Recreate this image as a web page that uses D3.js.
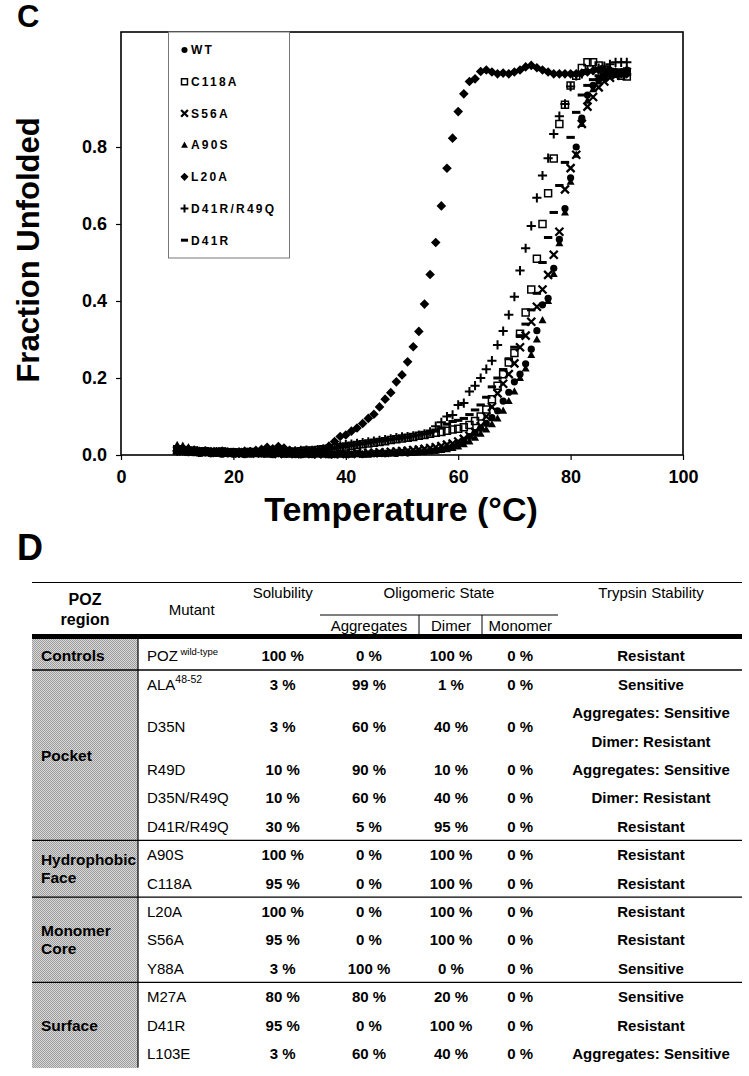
<!DOCTYPE html>
<html><head><meta charset="utf-8">
<script src="https://cdn.jsdelivr.net/npm/d3@7"></script>
<style>body{margin:0;background:#fff}svg{display:block}</style>
</head><body><svg id="c" width="749" height="1076"></svg>
<script>
// ---------- Panel C data ----------
const temps = [10,11,12,13,14,15,16,17,18,19,20,21,22,23,24,25,26,27,28,29,30,31,32,33,34,35,36,37,38,39,40,41,42,43,44,45,46,47,48,49,50,51,52,53,54,55,56,57,58,59,60,61,62,63,64,65,66,67,68,69,70,71,72,73,74,75,76,77,78,79,80,81,82,83,84,85,86,87,88,89,90];
const seriesNames = ["WT","C118A","S56A","A90S","L20A","D41R/R49Q","D41R"];
const seriesSymbols = ["circle","square","x","triangle","diamond","plus","dash"];
const wt = [0.010,0.012,0.008,0.006,0.004,0.005,0.003,0.004,0.002,0.003,
0.002,0.003,0.001,0.002,0.004,0.003,0.002,0.001,0.003,0.002,
0.002,0.001,0.000,0.002,0.001,0.003,0.002,0.000,0.001,0.002,
0.001,0.002,0.003,0.001,0.002,0.003,0.004,0.003,0.005,0.004,
0.006,0.005,0.007,0.008,0.009,0.011,0.012,0.014,0.017,0.022,
0.030,0.036,0.048,0.058,0.069,0.082,0.097,0.115,0.140,0.163,
0.190,0.210,0.237,0.275,0.323,0.390,0.407,0.485,0.560,0.640,
0.720,0.800,0.875,0.935,0.960,0.975,0.985,0.990,0.995,0.995,1.000];
const c118a = [0.015,0.013,0.010,0.012,0.009,0.010,0.008,0.007,0.009,0.006,
0.007,0.005,0.006,0.008,0.006,0.005,0.007,0.006,0.008,0.007,
0.009,0.008,0.010,0.012,0.011,0.013,0.015,0.016,0.018,0.020,
0.022,0.024,0.026,0.028,0.030,0.032,0.034,0.036,0.039,0.041,
0.043,0.045,0.047,0.050,0.052,0.055,0.058,0.060,0.063,0.066,
0.068,0.072,0.078,0.088,0.100,0.118,0.145,0.180,0.210,0.240,
0.265,0.315,0.370,0.430,0.510,0.600,0.680,0.770,0.860,0.910,
0.960,0.985,1.005,1.020,1.020,1.012,1.000,0.995,0.990,0.985,0.983];
const s56a = [0.012,0.010,0.009,0.010,0.008,0.007,0.009,0.006,0.008,0.007,
0.006,0.005,0.007,0.004,0.006,0.005,0.004,0.006,0.003,0.005,
0.004,0.003,0.005,0.004,0.003,0.002,0.004,0.003,0.002,0.003,
0.004,0.003,0.005,0.004,0.006,0.005,0.007,0.006,0.008,0.009,
0.010,0.011,0.013,0.014,0.016,0.018,0.020,0.023,0.027,0.030,
0.035,0.042,0.050,0.060,0.075,0.100,0.125,0.160,0.185,0.210,
0.238,0.280,0.310,0.346,0.385,0.430,0.468,0.520,0.580,0.690,
0.745,0.780,0.860,0.905,0.930,0.955,0.970,0.980,0.985,0.990,0.995];
const a90s = [0.026,0.024,0.020,0.015,0.012,0.010,0.008,0.006,0.007,0.005,
0.004,0.005,0.003,0.004,0.002,0.003,0.004,0.002,0.003,0.001,
0.002,0.003,0.001,0.002,0.000,0.001,0.002,0.001,0.003,0.002,
0.003,0.002,0.004,0.003,0.002,0.004,0.003,0.005,0.004,0.006,
0.005,0.007,0.006,0.008,0.009,0.010,0.011,0.013,0.015,0.018,
0.022,0.028,0.035,0.045,0.055,0.066,0.080,0.095,0.115,0.140,
0.165,0.200,0.225,0.260,0.300,0.350,0.400,0.470,0.550,0.630,
0.710,0.780,0.860,0.920,0.950,0.970,0.980,0.990,0.990,0.995,1.000];
const l20a = [0.012,0.010,0.015,0.011,0.008,0.010,0.009,0.007,0.010,0.008,
0.006,0.008,0.010,0.009,0.012,0.015,0.020,0.016,0.022,0.018,
0.012,0.010,0.008,0.009,0.011,0.010,0.013,0.023,0.035,0.048,
0.052,0.062,0.070,0.082,0.095,0.106,0.125,0.145,0.162,0.190,
0.208,0.242,0.281,0.321,0.392,0.469,0.552,0.647,0.745,0.823,
0.892,0.938,0.970,0.977,0.996,1.000,0.995,0.990,0.992,0.990,
0.995,1.000,1.008,1.012,1.006,1.000,0.995,0.990,0.990,0.990,
0.990,0.990,0.992,0.995,0.998,1.000,1.000,1.000,0.995,0.990,0.990];
const d41rR49q = [0.010,0.012,0.009,0.011,0.008,0.010,0.007,0.009,0.008,0.006,
0.007,0.005,0.006,0.008,0.007,0.006,0.009,0.008,0.010,0.009,
0.011,0.010,0.012,0.013,0.012,0.014,0.016,0.018,0.020,0.024,
0.027,0.028,0.030,0.032,0.034,0.036,0.038,0.040,0.042,0.045,
0.047,0.048,0.050,0.052,0.055,0.060,0.075,0.085,0.100,0.104,
0.130,0.135,0.165,0.180,0.200,0.223,0.245,0.286,0.322,0.364,
0.411,0.479,0.537,0.595,0.668,0.726,0.771,0.834,0.880,0.912,
0.957,0.985,0.990,1.000,1.000,1.005,1.010,1.015,1.020,1.020,1.020];
const d41r = [0.008,0.006,0.009,0.007,0.005,0.008,0.006,0.004,0.007,0.005,
0.004,0.006,0.005,0.003,0.005,0.004,0.006,0.005,0.007,0.006,
0.008,0.007,0.009,0.010,0.012,0.011,0.013,0.015,0.017,0.020,
0.022,0.024,0.027,0.029,0.031,0.034,0.036,0.038,0.040,0.042,
0.044,0.046,0.049,0.052,0.055,0.058,0.062,0.070,0.080,0.087,
0.090,0.095,0.105,0.117,0.130,0.150,0.177,0.200,0.222,0.250,
0.280,0.310,0.340,0.377,0.420,0.500,0.565,0.630,0.700,0.760,
0.825,0.890,0.935,0.960,0.975,0.985,0.990,0.995,1.000,1.000,0.998];
const seriesValues = [wt, c118a, s56a, a90s, l20a, d41rR49q, d41r];
const xTicks = [0,20,40,60,80,100];
const yTicks = [0,0.2,0.4,0.6,0.8];

// ---------- Panel D data ----------
const regionNames = [["Controls"],["Pocket"],["Hydrophobic","Face"],["Monomer","Core"],["Surface"]];
const regionSizes = [1,5,2,3,3];
const mutants = ["POZ","ALA","D35N","R49D","D35N/R49Q","D41R/R49Q","A90S","C118A","L20A","S56A","Y88A","M27A","D41R","L103E"];
const mutantSup = ["wild-type","48-52","","","","","","","","","","","",""];
const solubility = [100,3,3,10,10,30,100,95,100,95,3,80,95,3];
const aggregates = [0,99,60,90,60,5,0,0,0,0,100,80,0,60];
const dimer = [100,1,40,10,40,95,100,100,100,100,0,20,100,40];
const monomer = [0,0,0,0,0,0,0,0,0,0,0,0,0,0];
const trypsin = [["Resistant"],["Sensitive"],["Aggregates: Sensitive","Dimer: Resistant"],["Aggregates: Sensitive"],["Dimer: Resistant"],["Resistant"],["Resistant"],["Resistant"],["Resistant"],["Resistant"],["Sensitive"],["Sensitive"],["Resistant"],["Aggregates: Sensitive"]];

// ---------- drawing ----------
const FONT = '"Liberation Sans", Arial, Helvetica, sans-serif';
const svg = d3.select("#c").attr("font-family", FONT);
svg.append("rect").attr("width",749).attr("height",1076).attr("fill","#fff");

const defs = svg.append("defs");
const pat = defs.append("pattern").attr("id","halftone").attr("width",2).attr("height",2).attr("patternUnits","userSpaceOnUse");
pat.append("rect").attr("width",2).attr("height",2).attr("fill","#d8d8d8");
pat.append("rect").attr("width",1).attr("height",1).attr("fill","#9c9c9c");
pat.append("rect").attr("x",1).attr("y",1).attr("width",1).attr("height",1).attr("fill","#9c9c9c");

function symPath(type, k) {
  const s = v => (v*k).toFixed(2);
  switch(type){
    case "circle": return d3.symbol(d3.symbolCircle, Math.PI*Math.pow(3.6*k,2))();
    case "square": return `M${s(-3.5)},${s(-3.5)}h${s(7)}v${s(7)}h${s(-7)}z`;
    case "x": return `M${s(-4)},${s(-4)}L${s(4)},${s(4)}M${s(-4)},${s(4)}L${s(4)},${s(-4)}`;
    case "triangle": return `M0,${s(-4.2)}L${s(4)},${s(3)}L${s(-4)},${s(3)}Z`;
    case "diamond": return `M0,${s(-4.8)}L${s(4.8)},0L0,${s(4.8)}L${s(-4.8)},0Z`;
    case "plus": return `M${s(-4.6)},0H${s(4.6)}M0,${s(-4.6)}V${s(4.6)}`;
    case "dash": return `M${s(-4.2)},0H${s(4.2)}`;
  }
}
function symStyle(sel, type) {
  if (type==="circle"||type==="triangle"||type==="diamond") sel.attr("fill","#000").attr("stroke","none");
  else if (type==="square") sel.attr("fill","none").attr("stroke","#000").attr("stroke-width",1.5);
  else if (type==="x") sel.attr("fill","none").attr("stroke","#000").attr("stroke-width",2.3);
  else if (type==="plus") sel.attr("fill","none").attr("stroke","#000").attr("stroke-width",2);
  else sel.attr("fill","none").attr("stroke","#000").attr("stroke-width",3);
}

// Panel C
svg.append("text").attr("x",17).attr("y",27).attr("font-size",31).attr("font-weight","bold").text("C");

const x = d3.scaleLinear().domain([0,100]).range([121,683]);
const y = d3.scaleLinear().domain([0,1.1]).range([455,31.5]);

const gx = svg.append("g").attr("transform","translate(0,455)")
  .call(d3.axisBottom(x).tickValues(xTicks).tickSize(5).tickPadding(10).tickFormat(d3.format("d")));
gx.select(".domain").remove();
gx.selectAll("text").attr("font-size",18).attr("font-weight","bold").attr("font-family",FONT).attr("fill","#000");
gx.selectAll("line").attr("stroke","#000").attr("stroke-width",1.2);

const gy = svg.append("g").attr("transform","translate(121,0)")
  .call(d3.axisLeft(y).tickValues(yTicks).tickSize(5).tickPadding(9).tickFormat(d3.format(".1f")));
gy.select(".domain").remove();
gy.selectAll("text").attr("font-size",18).attr("font-weight","bold").attr("font-family",FONT).attr("fill","#000");
gy.selectAll("line").attr("stroke","#000").attr("stroke-width",1.2);

svg.append("rect").attr("x",x(0)).attr("y",32).attr("width",x(100)-x(0)).attr("height",455-32)
  .attr("fill","none").attr("stroke","#000").attr("stroke-width",1.6);

const gData = svg.append("g");
seriesValues.forEach((vals, si) => {
  const type = seriesSymbols[si];
  const d = symPath(type, 1);
  const sel = gData.append("g").selectAll("path").data(vals).join("path")
    .attr("d", d)
    .attr("transform", (v,i) => `translate(${x(temps[i])},${y(v)})`);
  symStyle(sel, type);
});

// legend
const lg = svg.append("g");
lg.append("rect").attr("x",168.5).attr("y",32).attr("width",121).attr("height",226)
  .attr("fill","#fff").attr("stroke","#777").attr("stroke-width",1);
seriesNames.forEach((nm, i) => {
  const cy = 50 + i*31.7;
  const p = lg.append("path").attr("d", symPath(seriesSymbols[i], 0.85)).attr("transform",`translate(184.5,${cy})`);
  symStyle(p, seriesSymbols[i]);
  lg.append("text").attr("x",191).attr("y",cy+4.3).attr("font-size",12).attr("font-weight","bold")
    .attr("letter-spacing",2.2).text(nm);
});

// axis titles
svg.append("text").attr("x",401).attr("y",521).attr("text-anchor","middle").attr("font-size",34).attr("font-weight","bold").text("Temperature (°C)");
svg.append("text").attr("transform","translate(39,250) rotate(-90)").attr("text-anchor","middle").attr("font-size",31).attr("font-weight","bold").text("Fraction Unfolded");

// Panel D
svg.append("text").attr("x",17).attr("y",560).attr("font-size",36).attr("font-weight","bold").text("D");

const L = 32, R = 742;
const colSol = 282.7, colAgg = 369, colDim = 451, colMon = 520.3, colTry = 651, colMut = 147;
const tbl = svg.append("g");
tbl.append("line").attr("x1",L).attr("x2",R).attr("y1",582.5).attr("y2",582.5).attr("stroke","#000").attr("stroke-width",1.2);
tbl.append("text").attr("x",85).attr("y",605).attr("text-anchor","middle").attr("font-size",16).attr("font-weight","bold").text("POZ");
tbl.append("text").attr("x",85).attr("y",625).attr("text-anchor","middle").attr("font-size",16).attr("font-weight","bold").text("region");
tbl.append("text").attr("x",191.7).attr("y",615).attr("text-anchor","middle").attr("font-size",15).text("Mutant");
tbl.append("text").attr("x",colSol).attr("y",598).attr("text-anchor","middle").attr("font-size",15).text("Solubility");
tbl.append("text").attr("x",439).attr("y",598).attr("text-anchor","middle").attr("font-size",15).text("Oligomeric State");
tbl.append("text").attr("x",colTry).attr("y",598).attr("text-anchor","middle").attr("font-size",15).text("Trypsin Stability");
tbl.append("line").attr("x1",320).attr("x2",558).attr("y1",615).attr("y2",615).attr("stroke","#000").attr("stroke-width",1);
[["Aggregates",colAgg],["Dimer",colDim],["Monomer",colMon]].forEach(([t,cx])=>{
  tbl.append("text").attr("x",cx).attr("y",631).attr("text-anchor","middle").attr("font-size",15).text(t);
});
[419,482].forEach(vx => tbl.append("line").attr("x1",vx).attr("x2",vx).attr("y1",615).attr("y2",634).attr("stroke","#000").attr("stroke-width",1));

const rowH = 28.4, top0 = 641.6;
const rowTops = []; let yy = top0;
mutants.forEach((m,i) => { rowTops.push(yy); yy += rowH * trypsin[i].length; });
const tableBottom = yy;
tbl.append("rect").attr("x",L).attr("y",639).attr("width",138-L).attr("height",tableBottom-639+0.5).attr("fill","url(#halftone)");
tbl.append("rect").attr("x",L).attr("y",634).attr("width",R-L).attr("height",5).attr("fill","#000");
tbl.append("line").attr("x1",138).attr("x2",138).attr("y1",639).attr("y2",tableBottom).attr("stroke","#000").attr("stroke-width",1.2);

const pct = d => d + " %";
mutants.forEach((m,i) => {
  const h = rowH * trypsin[i].length;
  const base = rowTops[i] + h/2 + 5.5;
  const t = tbl.append("text").attr("x",colMut).attr("y",base).attr("font-size",15).text(m);
  if (mutantSup[i]) {
    const sp = i===0 ? " " : "";
    t.append("tspan").attr("font-size",i===0?9.5:10.5).attr("dy",-6.5).text(sp + mutantSup[i]);
  }
  [[solubility,colSol],[aggregates,colAgg],[dimer,colDim],[monomer,colMon]].forEach(([arr,cx]) => {
    tbl.append("text").attr("x",cx).attr("y",base).attr("text-anchor","middle").attr("font-size",15).attr("font-weight","bold").text(pct(arr[i]));
  });
  trypsin[i].forEach((line, li) => {
    tbl.append("text").attr("x",colTry).attr("y",rowTops[i] + rowH*li + rowH/2 + 5.5)
      .attr("text-anchor","middle").attr("font-size",15).attr("font-weight","bold").text(line);
  });
});

let ri = 0;
regionNames.forEach((lines, g) => {
  const first = ri, last = ri + regionSizes[g] - 1;
  const gTop = rowTops[first];
  const gBot = rowTops[last] + rowH * trypsin[last].length;
  const mid = (gTop + gBot)/2;
  lines.forEach((ln, li) => {
    const base = mid + 5.5 + (li - (lines.length-1)/2) * 18;
    tbl.append("text").attr("x",41).attr("y",base).attr("font-size",15.5).attr("font-weight","bold")
      .attr("textLength", ln === "Hydrophobic" ? 95 : null).attr("lengthAdjust","spacingAndGlyphs").text(ln);
  });
  if (g < regionNames.length - 1) {
    tbl.append("line").attr("x1",L).attr("x2",R).attr("y1",gBot).attr("y2",gBot).attr("stroke","#000").attr("stroke-width",1.3);
  }
  ri += regionSizes[g];
});
</script></body></html>
